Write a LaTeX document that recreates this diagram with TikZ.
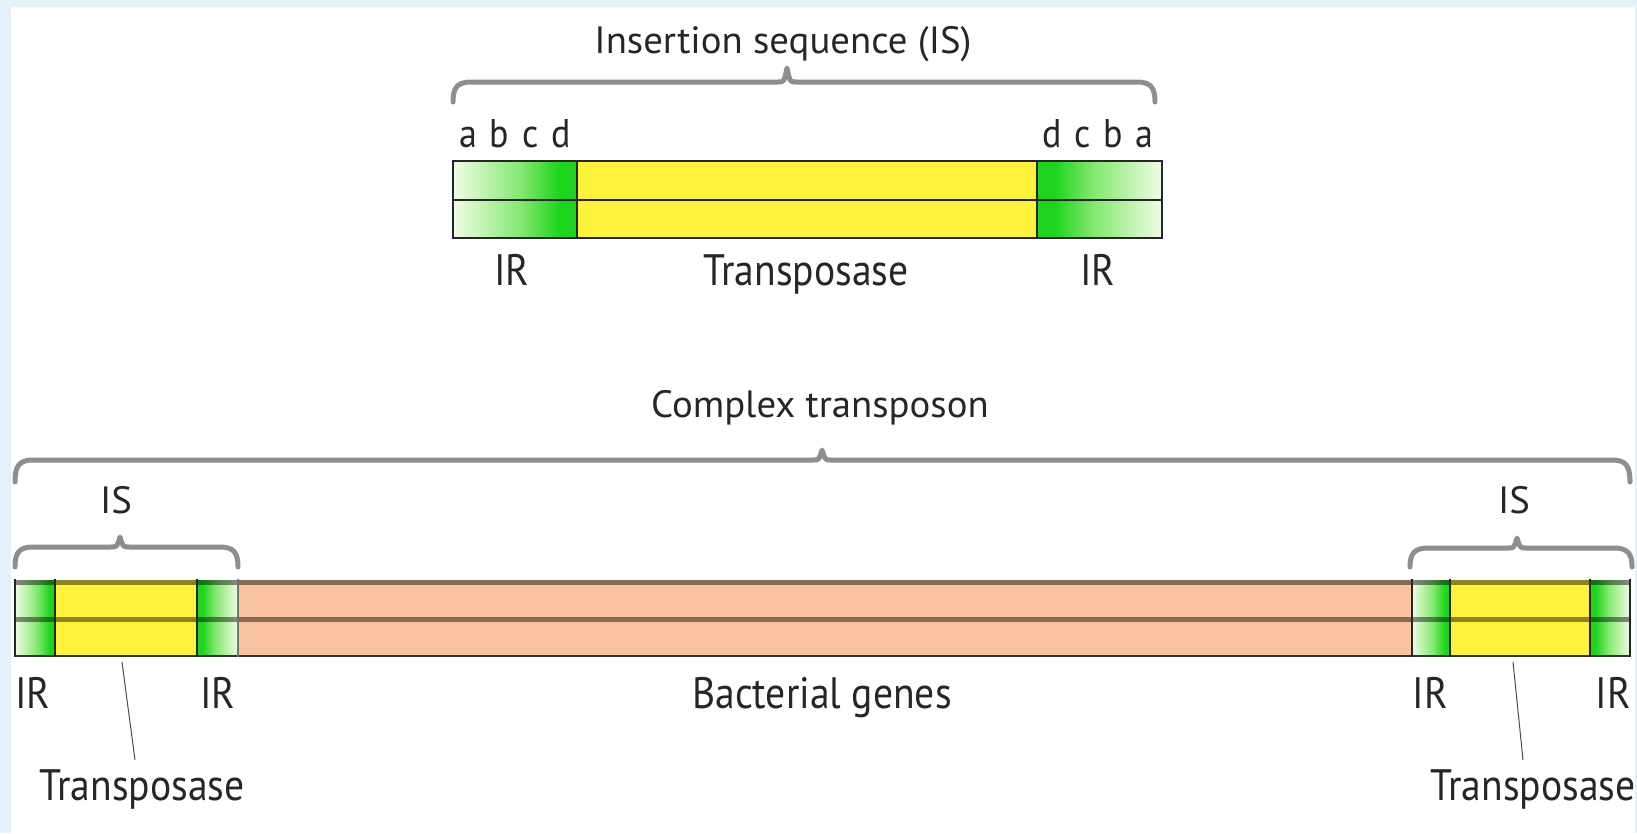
\documentclass[tikz,border=0pt]{standalone}
\usepackage{fontspec}
\setmainfont[FakeStretch=0.9]{PT Sans}
\newfontfamily\titlefam[FakeStretch=1.02]{PT Sans}
\definecolor{bgblue}{HTML}{E4F1F8}
\definecolor{ylw}{HTML}{FFF23C}
\definecolor{salmon}{HTML}{F8C2A0}
\definecolor{irpale}{HTML}{F0FCE6}
\definecolor{irmid}{HTML}{86E872}
\definecolor{irbright}{HTML}{1ED41E}
\definecolor{bracegray}{HTML}{8E8E8E}
\definecolor{txt}{HTML}{262626}
\pgfdeclarehorizontalshading{irL}{100bp}{color(0bp)=(irpale); color(25bp)=(irpale); color(52bp)=(irmid); color(68bp)=(irbright); color(75bp)=(irbright); color(100bp)=(irbright)}
\pgfdeclarehorizontalshading{irR}{100bp}{color(0bp)=(irbright); color(25bp)=(irbright); color(32bp)=(irbright); color(48bp)=(irmid); color(75bp)=(irpale); color(100bp)=(irpale)}
\newcommand\mybrace[6]{% x0, x1, xm, y, yend, tip
  \draw[bracestyle] (#1,#5) .. controls (#1,{#4+6}) and ({#1+4},#4) .. ({#1+18},#4)
    -- ({#3-9},#4) .. controls ({#3-3},#4) .. (#3,{#4-#6})
    .. controls ({#3+3},#4) .. ({#3+9},#4)
    -- ({#2-18},#4) .. controls ({#2-4},#4) and (#2,{#4+6}) .. (#2,#5);}
\tikzset{
  bracestyle/.style={draw=bracegray, line width=5pt, line cap=round, line join=round},
  titlefont/.style={text=txt, inner sep=1pt, anchor=base, font=\titlefam\fontsize{38}{40}\selectfont},
  labelfont/.style={text=txt, inner sep=1pt, anchor=base, font=\fontsize{44}{46}\selectfont},
  letterfont/.style={text=txt, inner sep=1pt, anchor=base, font=\fontsize{40}{42}\selectfont},
  barline/.style={draw=black!85, line width=2.2pt},
  softline/.style={draw=black, opacity=0.45, line width=5pt},
  pointer/.style={draw=black!70, line width=1pt},
}
\begin{document}
\begin{tikzpicture}[x=1pt,y=-1pt]
\useasboundingbox (0,0) rectangle (1637,833);
\fill[bgblue] (0,0) rectangle (1637,833);
\fill[white] (11,7) rectangle (1635,833);

% ---------------- Top: insertion sequence ----------------
\node[titlefont] (istitle) at (783,53) {Insertion sequence (IS)};
\mybrace{453}{1155}{787}{82}{102}{14}
\node[letterfont] (abcdL) at (515,147) {a\hspace{0.32em}b\hspace{0.32em}c\hspace{0.32em}d};
\node[letterfont] (abcdR) at (1098,147) {d\hspace{0.32em}c\hspace{0.32em}b\hspace{0.32em}a};

\fill[ylw] (577,161) rectangle (1037,238);
\shade[shading=irL] (453,161) rectangle (577,238);
\shade[shading=irR] (1037,161) rectangle (1162,238);
\draw[barline] (453,161) rectangle (1162,238);
\draw[barline] (453,200) -- (1162,200);
\draw[barline] (577,161) -- (577,238);
\draw[barline] (1037,161) -- (1037,238);

\node[labelfont] (irTL) at (512,285) {IR};
\node[labelfont] (tpT) at (806,285) {Transposase};
\node[labelfont] (irTR) at (1098,285) {IR};

% ---------------- Bottom: complex transposon ----------------
\node[titlefont] (cxtitle) at (820,417) {Complex transposon};
\mybrace{15}{1630}{822}{460}{482}{10}
\node[titlefont] (isL) at (116,513) {IS};
\node[titlefont] (isR) at (1514,513) {IS};
\mybrace{15}{238}{120}{547}{567}{10}
\mybrace{1410}{1632}{1517}{548}{567}{10}

\fill[salmon] (238,580) rectangle (1412,656);
\fill[ylw] (55,580) rectangle (197,656);
\fill[ylw] (1450,580) rectangle (1590,656);
\shade[shading=irL] (15,580) rectangle (55,656);
\shade[shading=irR] (197,580) rectangle (238,656);
\shade[shading=irL] (1412,580) rectangle (1450,656);
\shade[shading=irR] (1590,580) rectangle (1630,656);
\draw[softline] (15,582) -- (1630,582);
\draw[softline] (15,619) -- (1630,619);
\draw[draw=black!80, line width=2pt] (15,656) -- (1630,656);
\draw[barline] (15,579) -- (15,657);
\draw[barline] (55,579) -- (55,657);
\draw[barline] (197,579) -- (197,657);
\draw[draw=black!55, line width=1.2pt] (238,579) -- (238,657);
\draw[barline] (1412,579) -- (1412,657);
\draw[barline] (1450,579) -- (1450,657);
\draw[barline] (1590,579) -- (1590,657);
\draw[barline] (1630,579) -- (1630,657);

\node[labelfont] (irB1) at (33,708) {IR};
\node[labelfont] (irB2) at (218,708) {IR};
\node[labelfont] (bact) at (822,708) {Bacterial genes};
\node[labelfont] (irB3) at (1430,708) {IR};
\node[labelfont] (irB4) at (1613,708) {IR};

\node[labelfont] (tpL) at (142,800) {Transposase};
\node[labelfont] (tpR) at (1533,800) {Transposase};
\coordinate (pL) at (122,662);
\coordinate (pLe) at (135,760);
\coordinate (pR) at (1513,662);
\coordinate (pRe) at (1523,760);
\draw[pointer] (pL) -- (pLe);
\draw[pointer] (pR) -- (pRe);
\end{tikzpicture}
\end{document}
